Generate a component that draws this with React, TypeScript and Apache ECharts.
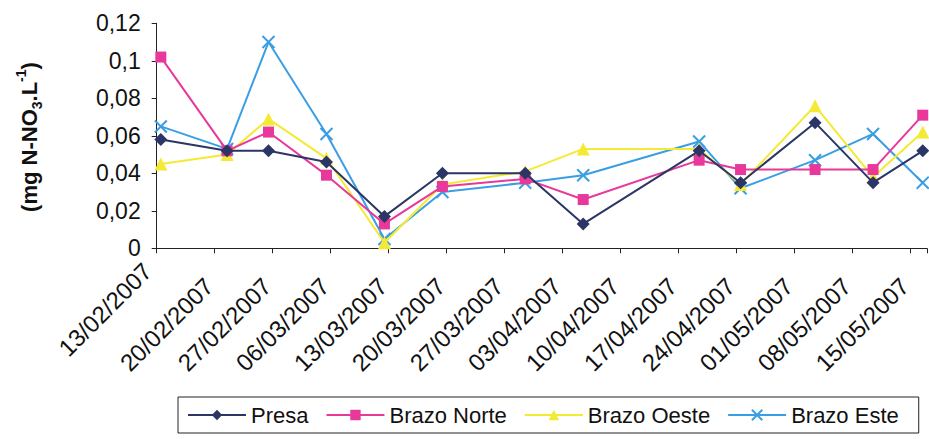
import React, { useEffect, useRef } from 'react';
import * as echarts from 'echarts';

const sampleDates = [
  '13/02/2007', '21/02/2007', '26/02/2007', '05/03/2007', '12/03/2007', '19/03/2007', '29/03/2007',
  '05/04/2007', '19/04/2007', '24/04/2007', '03/05/2007', '10/05/2007', '16/05/2007',
];

const tickLabels = [
  '13/02/2007', '20/02/2007', '27/02/2007', '06/03/2007', '13/03/2007', '20/03/2007', '27/03/2007',
  '03/04/2007', '10/04/2007', '17/04/2007', '24/04/2007', '01/05/2007', '08/05/2007', '15/05/2007',
];

const presa = [0.058, 0.052, 0.052, 0.046, 0.017, 0.040, 0.040, 0.013, 0.052, 0.035, 0.067, 0.035, 0.052];
const brazoNorte = [0.102, 0.052, 0.062, 0.039, 0.013, 0.033, 0.037, 0.026, 0.047, 0.042, 0.042, 0.042, 0.071];
const brazoOeste = [0.045, 0.050, 0.069, 0.048, 0.003, 0.034, 0.041, 0.053, 0.053, 0.034, 0.076, 0.038, 0.062];
const brazoEste = [0.065, 0.053, 0.110, 0.061, 0.005, 0.030, 0.035, 0.039, 0.057, 0.032, 0.047, 0.061, 0.035];

const seriesNames = ['Presa', 'Brazo Norte', 'Brazo Oeste', 'Brazo Este'];
const colors = ['#2B3566', '#E8399B', '#F5EA33', '#3A9EE4'];

const FONT = '"Liberation Sans", Arial, sans-serif';

function dayOffset(d: string): number {
  const [dd, mm, yy] = d.split('/').map(Number);
  return (Date.UTC(yy, mm - 1, dd) - Date.UTC(2007, 1, 13)) / 864e5;
}

export default function App() {
  const ref = useRef<HTMLDivElement>(null);
  useEffect(() => {
    const chart = echarts.init(ref.current!, null, { renderer: 'svg' });
    // points sit in the middle of their day, as on a day-based date axis
    const mk = (vals: number[]) => vals.map((v, i) => [dayOffset(sampleDates[i]) + 0.5, v]);
    const xPath = 'path://M0,0L10,10M10,0L0,10';
    const allVals = [presa, brazoNorte, brazoOeste, brazoEste];
    const symbols = ['diamond', 'rect', 'triangle', xPath];
    const sizes = [13, 11, 13, 12];
    const labelText = { fontSize: 24, fontFamily: FONT, color: '#111' };
    const option: any = {
      animation: false,
      backgroundColor: '#ffffff',
      grid: { left: 156.7, top: 23.3, bottom: 190.7, right: -4.6, containLabel: false },
      xAxis: {
        type: 'value',
        min: 0,
        max: 93,
        interval: 7,
        axisLine: { show: true, lineStyle: { color: '#222', width: 1 } },
        axisTick: { show: true, length: 5, lineStyle: { color: '#222' } },
        splitLine: { show: false },
        axisLabel: {
          rotate: 45,
          margin: 28,
          fontSize: 24,
          fontFamily: FONT,
          color: '#111',
          rich: {
            n: { ...labelText, padding: [0, 8, 0, 0] },
            f: { ...labelText, padding: [0, 0, 26, 0] },
          },
          formatter: (v: number) => {
            const k = Math.round(v / 7);
            if (Math.abs(v - k * 7) > 1e-6 || k >= tickLabels.length) return '';
            return k === 0 ? `{f|${tickLabels[k]}}` : `{n|${tickLabels[k]}}`;
          },
        },
      },
      yAxis: {
        type: 'value',
        min: 0,
        max: 0.12,
        interval: 0.02,
        axisLine: { show: true, lineStyle: { color: '#222', width: 1 } },
        axisTick: { show: true, length: 5, lineStyle: { color: '#222' } },
        splitLine: { show: false },
        axisLabel: {
          margin: 16,
          fontSize: 23,
          fontFamily: FONT,
          color: '#111',
          formatter: (v: number) => (v === 0 ? '0' : String(+v.toFixed(2)).replace('.', ',')),
        },
      },
      legend: {
        left: 178,
        top: 397,
        orient: 'horizontal',
        itemWidth: 58,
        itemHeight: 13,
        itemGap: 17,
        padding: [7, 20, 7, 9],
        borderColor: '#222',
        borderWidth: 1,
        textStyle: { fontSize: 22, fontFamily: FONT, color: '#111' },
        data: seriesNames,
      },
      graphic: [
        {
          type: 'text',
          x: 29,
          y: 137,
          rotation: Math.PI / 2,
          style: {
            text: '{n|(mg N-NO}{sub|3}{n|.L}{sup|-1}{n|)}',
            align: 'center',
            verticalAlign: 'middle',
            fill: '#111',
            rich: {
              n: { fontSize: 22, fontWeight: 'bold', fontFamily: FONT, lineHeight: 30, fill: '#111' },
              sub: { fontSize: 14, fontWeight: 'bold', fontFamily: FONT, lineHeight: 14, verticalAlign: 'bottom', fill: '#111' },
              sup: { fontSize: 14, fontWeight: 'bold', fontFamily: FONT, lineHeight: 14, verticalAlign: 'top', fill: '#111' },
            },
          },
        },
      ],
      series: seriesNames.map((name, i) => ({
        name,
        type: 'line',
        data: mk(allVals[i]),
        symbol: symbols[i],
        symbolSize: sizes[i],
        color: colors[i],
        lineStyle: { color: colors[i], width: 2 },
        itemStyle: i === 3
          ? { color: colors[i], borderColor: colors[i], borderWidth: 2 }
          : { color: colors[i] },
        z: 2 + (3 - i),
      })),
    };
    chart.setOption(option);
    return () => chart.dispose();
  }, []);
  return (
    <div
      ref={ref}
      style={{ position: 'fixed', left: 0, top: 0, width: 929, height: 439, background: '#fff' }}
    />
  );
}
